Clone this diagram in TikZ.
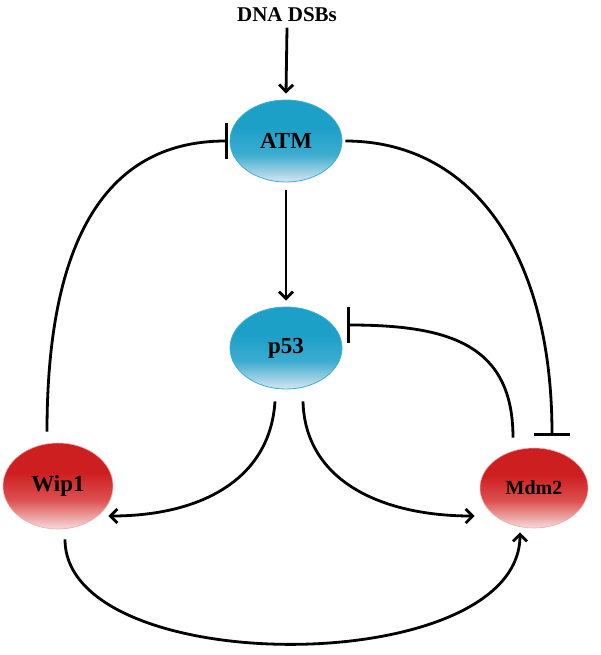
\documentclass[tikz,border=0pt]{standalone}
\usepackage{fontspec}
\setmainfont{Liberation Serif}
\usetikzlibrary{shapes.geometric,arrows.meta,calc}
\definecolor{btop}{RGB}{28,160,200}
\definecolor{bmid}{RGB}{60,172,208}
\definecolor{bbot}{RGB}{215,230,238}
\definecolor{bline}{RGB}{60,175,215}
\definecolor{rtop}{RGB}{205,30,32}
\definecolor{rmid}{RGB}{222,80,80}
\definecolor{rbot}{RGB}{246,220,220}
\definecolor{rline}{RGB}{235,170,170}
\pgfdeclareverticalshading{blueshade}{100bp}{color(0bp)=(bbot); color(25bp)=(bbot); color(42bp)=(bmid); color(58bp)=(btop); color(100bp)=(btop)}
\pgfdeclareverticalshading{redshade}{100bp}{color(0bp)=(rbot); color(25bp)=(rbot); color(42bp)=(rmid); color(58bp)=(rtop); color(100bp)=(rtop)}
\tikzset{
  gene/.style={ellipse, minimum width=112pt, minimum height=82pt, inner sep=0pt,
    font=\fontsize{23}{25}\selectfont\bfseries},
  bluegene/.style={gene, shading=blueshade, draw=bline, line width=0.8pt},
  redgene/.style={gene, shading=redshade, draw=rline, line width=0.6pt},
  conn/.style={line width=2.8pt, black},
  act/.style={conn, -{Straight Barb[length=7pt,width=14pt,line width=2.8pt]}},
  inh/.style={conn, -{Bar[width=36pt,line width=2.8pt]}},
}
\begin{document}
\begin{tikzpicture}[x=1pt,y=-1pt]
\useasboundingbox (0,0) rectangle (600,655);
\node[font=\fontsize{21}{23}\selectfont\bfseries] (dna) at (287,15) {DNA DSBs};
\node[bluegene] (atm) at (286,141) {ATM};
\node[bluegene] (p53) at (286,348) {p53};
\node[redgene, minimum width=110pt, minimum height=86pt] (wip1) at (58,486) {Wip1};
\node[redgene, minimum width=108pt, minimum height=80pt, font=\fontsize{20}{22}\selectfont\bfseries] (mdm2) at (534,488) {Mdm2};

\draw[act] ([yshift=-2pt]dna.south) -- ([yshift=6pt]atm.north);
\draw[act] ([yshift=-8pt]atm.south) -- ([yshift=6pt]p53.north);

\draw[inh] ($(wip1.north)+(-11,-11)$) .. controls (47,250) and (100,141) .. ([xshift=-2pt]atm.west);
\draw[inh] ([xshift=3pt]atm.east) .. controls (470,141) and (552,250) .. ($(mdm2.north)+(18,-12)$);
\draw[inh] ($(mdm2.north)+(-21,-10)$) .. controls (513,345) and (450,325) .. ($(p53.east)+(5,-23)$);

\draw[act] ($(p53.south)+(-11,12)$) .. controls (270,480) and (200,516) .. ($(wip1.east)+(-5,30)$);
\draw[act] ($(p53.south)+(17,12)$) .. controls (305,480) and (380,516) .. ($(mdm2.west)+(-5,28)$);
\draw[act] ($(wip1.south)+(7,10)$) .. controls (65,680) and (520,680) .. ($(mdm2.south)+(-14,4)$);
\end{tikzpicture}
\end{document}
